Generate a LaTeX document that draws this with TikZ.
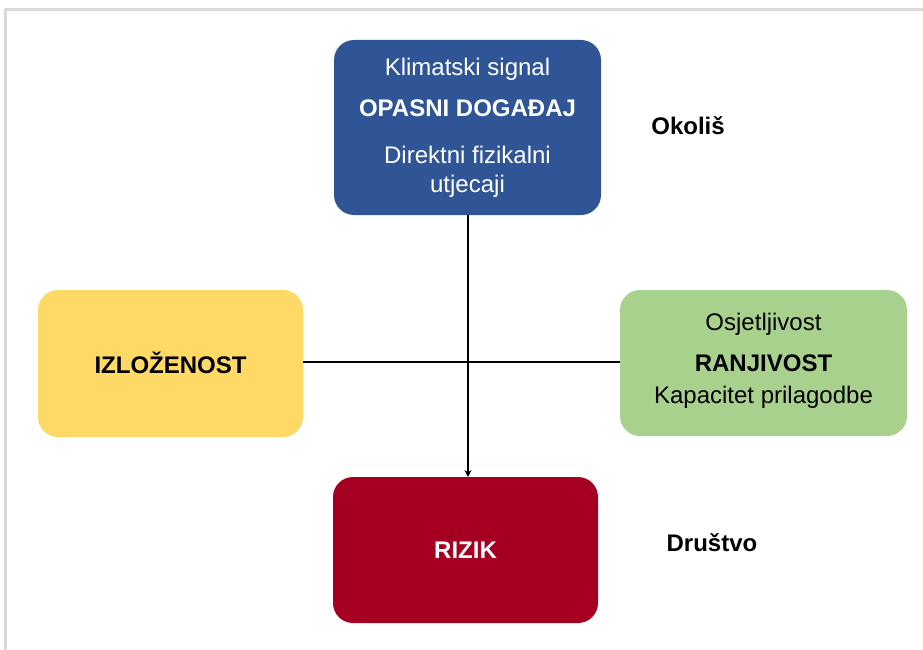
\documentclass[tikz,border=0pt]{standalone}
\usepackage{fontspec}
\setmainfont{Liberation Sans}
\usetikzlibrary{arrows.meta}
\definecolor{cblue}{HTML}{2F5597}
\definecolor{cyellow}{HTML}{FFD966}
\definecolor{cgreen}{HTML}{A9D18E}
\definecolor{cred}{HTML}{A50021}
\definecolor{cframe}{HTML}{D9D9D9}
\begin{document}
\begin{tikzpicture}[x=1pt,y=-1pt,
  box/.style={rounded corners=20pt, inner sep=0pt, align=center, font=\fontsize{24}{29}\selectfont},
  conn/.style={line width=2pt, black}]
\useasboundingbox (0,0) rectangle (923,650);
\draw[cframe, line width=3pt] (5,650) -- (5,10) -- (923,10);
\path[box, fill=cblue, text=white] (334,40) rectangle (601,215);
\node[box, text=white] (haz) at (467.5,128) {Klimatski signal\\[12pt] \textbf{OPASNI DOGAĐAJ}\\[18pt] Direktni fizikalni\\ utjecaji};
\path[box, fill=cyellow] (38,290) rectangle (303,437);
\node[box] (exp) at (170.5,363) {\textbf{IZLOŽENOST}};
\path[box, fill=cgreen] (620,290) rectangle (907,436);
\node[box] (vul) at (763.5,361) {Osjetljivost\\[12pt] \textbf{RANJIVOST}\\[3pt] Kapacitet prilagodbe};
\path[box, fill=cred] (333,477) rectangle (598,623);
\node[box, text=white] (risk) at (465.5,550) {\textbf{RIZIK}};
\coordinate (hazb) at (468,215);
\coordinate (riskt) at (468,477);
\coordinate (expr) at (303,362);
\coordinate (vull) at (620,362);
\draw[conn, -{Stealth[length=7pt,width=7pt]}] (hazb) -- (riskt);
\draw[conn] (expr) -- (vull);
\node[font=\bfseries\fontsize{24}{29}\selectfont] (env) at (688,126) {Okoliš};
\node[font=\bfseries\fontsize{24}{29}\selectfont] (soc) at (712,543) {Društvo};
\end{tikzpicture}
\end{document}
